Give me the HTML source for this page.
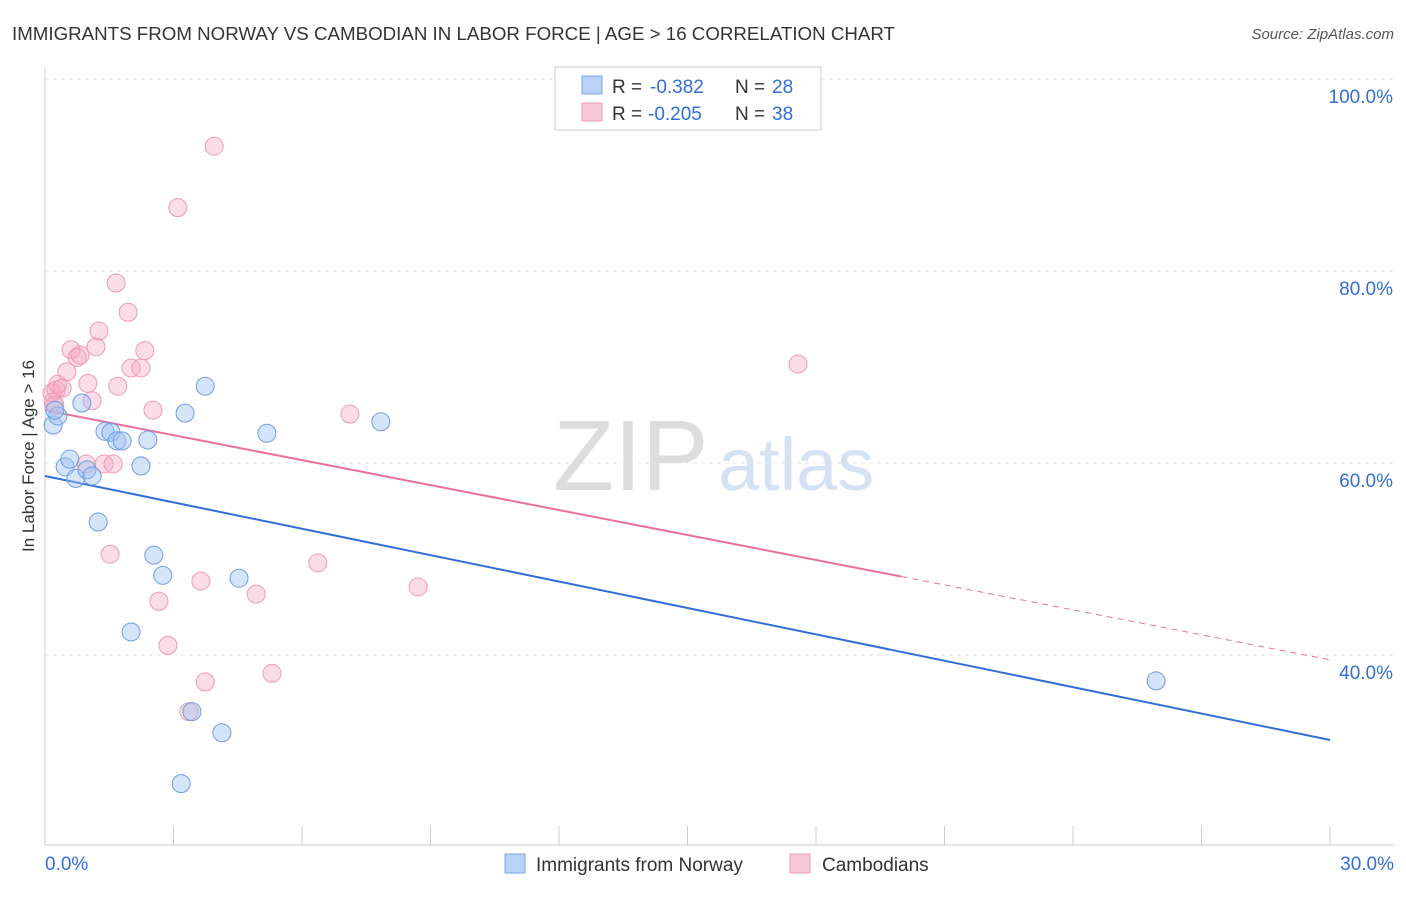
<!DOCTYPE html>
<html><head><meta charset="utf-8"><style>
body{margin:0;background:#fff;font-family:"Liberation Sans",sans-serif;}
svg text{font-family:"Liberation Sans",sans-serif;}
</style></head><body>
<svg id="chart" width="1406" height="892">
<text x="12" y="40" font-size="18" fill="#333" textLength="883" lengthAdjust="spacingAndGlyphs">IMMIGRANTS FROM NORWAY VS CAMBODIAN IN LABOR FORCE | AGE &gt; 16 CORRELATION CHART</text>
<text x="1394" y="39" font-size="15" fill="#555" text-anchor="end" font-style="italic">Source: ZipAtlas.com</text>
<text x="34" y="456" font-size="17" fill="#333" text-anchor="middle" transform="rotate(-90 34 456)">In Labor Force | Age &gt; 16</text>
<text x="553" y="490" font-size="100" fill="#ddd" font-family="Liberation Serif">ZIP</text>
<text x="718" y="490" font-size="74" fill="#d4e2f4">atlas</text>
<g id="grid"></g><g id="axes"></g><g id="trends"></g><g id="points"></g>
<g>
<rect x="555" y="67" width="266" height="63" fill="#fff" stroke="#ccc"/>
<rect x="582" y="76" width="20" height="18" fill="#b9d2f5" stroke="#7aa5e0"/>
<rect x="582" y="103" width="20" height="18" fill="#f9c8d8" stroke="#ee9ab5"/>
<text x="612" y="93" font-size="19" fill="#333">R =</text>
<text x="650" y="93" font-size="19" fill="#2f6fd6">-0.382</text>
<text x="735" y="93" font-size="19" fill="#333">N =</text>
<text x="772" y="93" font-size="19" fill="#2f6fd6">28</text>
<text x="612" y="120" font-size="19" fill="#333">R =</text>
<text x="648" y="120" font-size="19" fill="#2f6fd6">-0.205</text>
<text x="735" y="120" font-size="19" fill="#333">N =</text>
<text x="772" y="120" font-size="19" fill="#2f6fd6">38</text>
</g>
<g>
<rect x="505" y="854" width="20" height="19" fill="#b9d2f5" stroke="#7aa5e0"/>
<text x="536" y="871" font-size="19" fill="#333">Immigrants from Norway</text>
<rect x="790" y="854" width="20" height="19" fill="#f9c8d8" stroke="#ee9ab5"/>
<text x="822" y="871" font-size="19" fill="#333">Cambodians</text>
</g>
</svg>
<script>
const xTicks=[0,30];
const yTicks=[40,60,80,100];
const norwayX=[0.19,0.30,0.47,0.58,0.72,0.86,0.98,1.10,1.24,1.40,1.54,1.68,1.80,2.24,2.40,2.54,2.75,3.27,3.74,2.01,4.53,5.18,7.84,3.43,4.13,3.18,25.94,0.23];
const norwayY=[63.96,64.9,59.6,60.4,58.4,66.25,59.3,58.65,53.85,63.3,63.2,62.3,62.3,59.7,62.4,50.4,48.3,65.2,68.0,42.4,48.0,63.1,64.3,34.1,31.9,26.6,37.3,65.5];
const cambX=[0.16,0.23,0.26,0.30,0.40,0.51,0.61,0.75,0.82,1.00,1.10,1.19,1.26,0.96,1.38,1.52,1.59,1.66,1.70,1.94,2.01,2.24,2.33,2.52,2.66,2.87,3.10,3.64,3.74,3.95,3.36,4.93,5.30,6.37,7.12,8.71,17.58,0.19];
const cambY=[67.3,66.0,67.6,68.2,67.8,69.5,71.8,71.0,71.25,68.3,66.5,72.1,73.75,59.9,59.9,50.5,59.9,78.75,68.0,75.7,69.9,69.9,71.7,65.5,45.6,41.0,86.6,47.7,37.2,93.0,34.1,46.35,38.1,49.6,65.1,47.1,70.3,66.35];
const norwayTrend=[58.65,31.15];
const cambTrend=[65.5,39.5];
const cambSolidEnd=[20.0];
const NS="http://www.w3.org/2000/svg";
const X=v=>45+v*1285/30, Y=v=>79+(100-v)*9.6;
function mk(tag,attrs,parent){const e=document.createElementNS(NS,tag);for(const k in attrs)e.setAttribute(k,attrs[k]);document.getElementById(parent).appendChild(e);return e;}
yTicks.forEach(t=>{
 const l=mk('line',{x1:45,x2:1394,y1:Y(t),y2:Y(t),stroke:'#e4e4e4','stroke-dasharray':'4,4'},'grid');
 
 
 const tx=mk('text',{x:1393,y:Y(t)+24,'font-size':19,fill:'#2f6fd6','text-anchor':'end'},'grid');
 tx.textContent=t.toFixed(1)+'%';
 
 
});
const ax=mk('line',{x1:45,x2:1394,y1:845,y2:845,stroke:'#ccc'},'axes');


const ay=mk('line',{x1:45,x2:45,y1:68,y2:845,stroke:'#ccc'},'axes');


for(let i=0;i<=10;i++){const tk=mk('line',{x1:X(i*3),x2:X(i*3),y1:826,y2:845,stroke:'#ccc'},'axes');
 
 }
xTicks.forEach((t,i)=>{const tx=mk('text',{x:i==0?45:1394,y:870,'font-size':19,fill:'#2f6fd6','text-anchor':i==0?'start':'end'},'axes');
 tx.textContent=t.toFixed(1)+'%';
 
 });
const bl=mk('line',{x1:X(0),y1:Y(norwayTrend[0]),x2:X(30),y2:Y(norwayTrend[1]),stroke:'#2f6fd6','stroke-width':2},'trends');


const cy=x=>cambTrend[0]+(cambTrend[1]-cambTrend[0])*x/30;
const pl=mk('line',{x1:X(0),y1:Y(cy(0)),x2:X(cambSolidEnd[0]),y2:Y(cy(cambSolidEnd[0])),stroke:'#e8709a','stroke-width':2},'trends');


const pd=mk('line',{x1:X(cambSolidEnd[0]),y1:Y(cy(cambSolidEnd[0])),x2:X(30),y2:Y(cy(30)),stroke:'#e8709a','stroke-width':1,'stroke-dasharray':'6,5'},'trends');


cambX.forEach((x,i)=>{const c=mk('circle',{cx:X(x),cy:Y(cambY[i]),r:9,fill:'rgba(245,165,192,0.38)',stroke:'#ee9ab5','stroke-width':1},'points');
 
 });
norwayX.forEach((x,i)=>{const c=mk('circle',{cx:X(x),cy:Y(norwayY[i]),r:9,fill:'rgba(160,195,242,0.45)',stroke:'#6f9de0','stroke-width':1},'points');
 
 });
</script>
</body></html>
